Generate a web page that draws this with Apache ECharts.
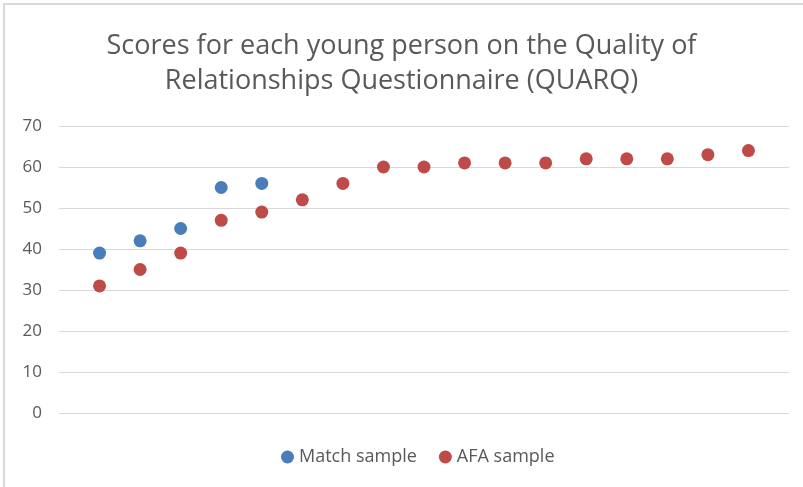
<!DOCTYPE html>
<html>
<head>
<meta charset="utf-8">
<script src="https://cdn.jsdelivr.net/npm/echarts@6/dist/echarts.min.js"></script>
<style>
html, body { margin: 0; padding: 0; background: #fff; }
#chart { width: 803px; height: 487px; }
</style>
</head>
<body>
<div id="chart"></div>
<script>
var chartDom = document.getElementById('chart');
var myChart = echarts.init(chartDom, null, { renderer: 'canvas' });

// one slot per young person, left to right
var matchScores = [39, 42, 45, 55, 56];
var afaScores = [31, 35, 39, 47, 49, 52, 56, 60, 60, 61, 61, 61, 62, 62, 62, 63, 64];
var yTicks = [0, 10, 20, 30, 40, 50, 60, 70];

function toPoints(arr) {
    return arr.map(function (v, i) { return [i + 1, v]; });
}

var textColor = '#595959';
var fontName = "'Open Sans', sans-serif";

var option = {
    backgroundColor: '#fff',
    animation: false,
    title: {
        text: 'Scores for each young person on the Quality of\nRelationships Questionnaire (QUARQ)',
        left: 'center',
        top: 24,
        textStyle: {
            color: textColor,
            fontFamily: fontName,
            fontWeight: 'normal',
            fontSize: 27,
            lineHeight: 35
        }
    },
    legend: {
        bottom: 16,
        left: 276,
        itemWidth: 13,
        itemHeight: 13,
        itemGap: 22,
        icon: 'circle',
        textStyle: { color: textColor, fontFamily: fontName, fontSize: 18 },
        data: ['Match sample', 'AFA sample']
    },
    grid: { left: 59, right: 14, top: 126, bottom: 74 },
    xAxis: {
        type: 'value',
        min: 0,
        max: 18,
        show: false
    },
    yAxis: {
        type: 'value',
        min: yTicks[0],
        max: yTicks[yTicks.length - 1],
        interval: 10,
        axisLine: { show: false },
        axisTick: { show: false },
        axisLabel: { color: textColor, fontFamily: fontName, fontSize: 17, margin: 17 },
        splitLine: { lineStyle: { color: '#d9d9d9', width: 1 } }
    },
    series: [{
        name: 'Match sample',
        type: 'scatter',
        symbolSize: 13,
        itemStyle: { color: '#4a7ebb', opacity: 1 },
        data: toPoints(matchScores)
    }, {
        name: 'AFA sample',
        type: 'scatter',
        symbolSize: 13,
        itemStyle: { color: '#be4b48', opacity: 1 },
        data: toPoints(afaScores)
    }],
    graphic: [{
        type: 'rect',
        shape: { x: 4, y: 4, width: 900, height: 600 },
        style: { fill: 'none', stroke: '#d9d9d9', lineWidth: 2 },
        silent: true
    }]
};

option && myChart.setOption(option);
</script>
</body>
</html>
